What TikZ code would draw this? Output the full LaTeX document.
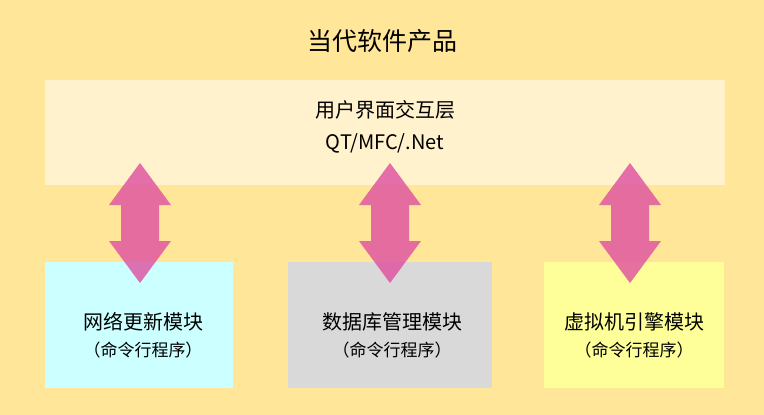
\documentclass[tikz,border=0pt]{standalone}
\usepackage{fontspec}
\setmainfont{Noto Sans CJK SC}
\definecolor{bg}{RGB}{255,230,153}
\definecolor{uibg}{RGB}{255,242,204}
\definecolor{cy}{RGB}{204,255,255}
\definecolor{gr}{RGB}{217,217,217}
\definecolor{ly}{RGB}{255,255,153}
\definecolor{pk}{RGB}{222,78,160}
\begin{document}
\begin{tikzpicture}[x=1pt,y=-1pt,
  lbl/.style={font=\fontsize{20}{23}\selectfont,align=center},
  sub/.style={font=\fontsize{17}{20}\selectfont,align=center},
  arr/.style={fill=pk,fill opacity=0.8,draw=none}]
\fill[bg] (0,0) rectangle (764,415);
\useasboundingbox (0,0) rectangle (764,415);
\node[font=\fontsize{25}{28}\selectfont] (title) at (382,41) {当代软件产品};
\fill[uibg] (45,80) rectangle (725,185);
\node[lbl] (ui) at (385,110) {用户界面交互层};
\node[lbl] (qt) at (385,143) {QT/MFC/.Net};
\fill[cy] (45,262) rectangle (233,388);
\fill[gr] (288,262) rectangle (492,388);
\fill[ly] (544,262) rectangle (724,388);
\node[lbl] (m1) at (143,322) {网络更新模块};
\node[sub] (m1b) at (143,350) {（命令行程序）};
\node[lbl] (m2) at (392,322) {数据库管理模块};
\node[sub] (m2b) at (392,350) {（命令行程序）};
\node[lbl] (m3) at (634,322) {虚拟机引擎模块};
\node[sub] (m3b) at (634,350) {（命令行程序）};
\foreach \c in {140,390,630}{
  \fill[arr] (\c,163) -- (\c+31,205) -- (\c+19,205) -- (\c+19,241) -- (\c+31,241) -- (\c,283)
    -- (\c-31,241) -- (\c-19,241) -- (\c-19,205) -- (\c-31,205) -- cycle;
}
\end{tikzpicture}
\end{document}
